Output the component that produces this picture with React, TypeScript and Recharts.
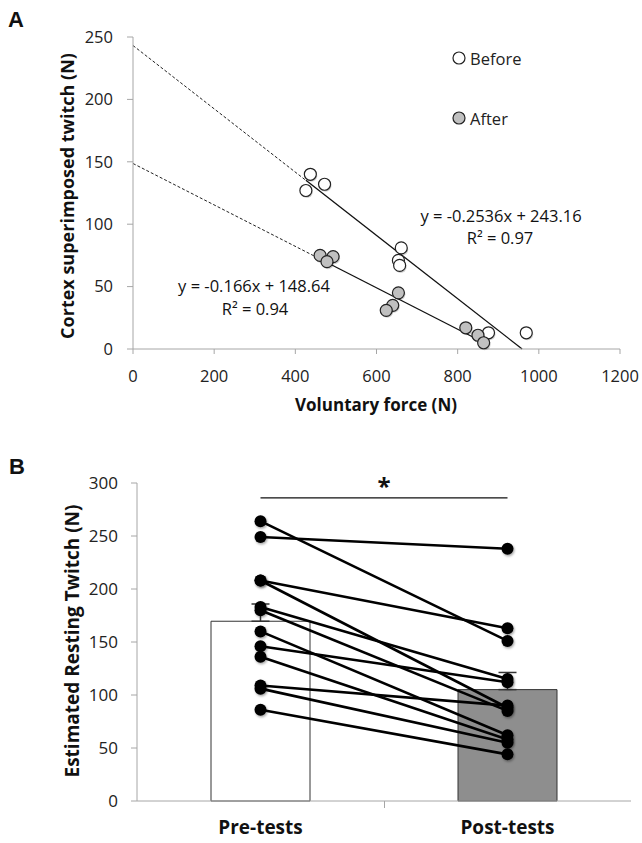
import React from "react";
import {
  Bar,
  Cell,
  ComposedChart,
  ErrorBar,
  Legend,
  Line,
  ReferenceLine,
  Scatter,
  XAxis,
  YAxis,
} from "recharts";

// Panel A: voluntary force vs cortex superimposed twitch
const beforeForce = [437, 472, 426, 661, 654, 657, 876, 969];
const beforeTwitch = [140, 132, 127, 81, 71, 67, 13, 13];
const afterForce = [461, 493, 478, 654, 640, 624, 820, 850, 864];
const afterTwitch = [75, 74, 70, 45, 35, 31, 17, 11, 5];
const forceTicks = [0, 200, 400, 600, 800, 1000, 1200];
const twitchTicks = [0, 50, 100, 150, 200, 250];
const seriesNames = ["Before", "After"];

// linear fits as printed on the figure
const beforeFit = { slope: -0.2536, intercept: 243.16, r2: "0.97", from: 426 };
const afterFit = { slope: -0.166, intercept: 148.64, r2: "0.94", from: 461, to: 870 };

// Panel B: estimated resting twitch, one value per subject
const groups = ["Pre-tests", "Post-tests"];
const preTest = [264, 249, 208, 208, 183, 180, 160, 146, 136, 109, 106, 86];
const postTest = [151, 238, 163, 88, 115, 85, 62, 112, 58, 90, 55, 44];
const restingTicks = [0, 50, 100, 150, 200, 250, 300];

const FONT = "'Open Sans', sans-serif";
const AXIS = "#a6a6a6";
const tickStyle = { fill: "#222", fontSize: 16.5, fontFamily: FONT };

const mean = (a: number[]) => a.reduce((s, v) => s + v, 0) / a.length;
const sem = (a: number[]) => {
  const m = mean(a);
  const sd = Math.sqrt(a.reduce((s, v) => s + (v - m) ** 2, 0) / (a.length - 1));
  return sd / Math.sqrt(a.length);
};

const beforePts = beforeForce.map((x, i) => ({ x, y: beforeTwitch[i] }));
const afterPts = afterForce.map((x, i) => ({ x, y: afterTwitch[i] }));
const fitAt = (f: { slope: number; intercept: number }, x: number) => f.slope * x + f.intercept;

const groupData = groups.map((name, g) => {
  const vals = g === 0 ? preTest : postTest;
  const row: Record<string, any> = { name, mean: mean(vals), err: [0, sem(vals)] };
  vals.forEach((v, i) => (row["s" + i] = v));
  return row;
});

const ring = (fill: string) => (p: any) => (
  <g>
    <circle cx={p.cx + 1} cy={p.cy + 1.5} r={6} fill="#000" opacity={0.18} />
    <circle cx={p.cx} cy={p.cy} r={6} fill={fill} stroke="#222" strokeWidth={1.2} />
  </g>
);

function LegendBox({ payload }: any) {
  const items = [...(payload ?? [])].sort(
    (a: any, b: any) => seriesNames.indexOf(a.value) - seriesNames.indexOf(b.value)
  );
  return (
    <div>
      {items.map((e: any) => (
        <div key={e.value} style={{ display: "flex", alignItems: "center", height: 20, marginBottom: 40 }}>
          <svg width={14} height={14} style={{ marginRight: 4 }}>
            <circle cx={7} cy={7} r={6} fill={e.color} stroke="#222" strokeWidth={1.2} />
          </svg>
          <span style={{ fontSize: 16.5, fontFamily: FONT, color: "#222" }}>{e.value}</span>
        </div>
      ))}
    </div>
  );
}

function GroupTick({ x, y, payload, index }: any) {
  return (
    <g>
      {index === 0 && <line x1={x + 124} x2={x + 124} y1={y - 20} y2={y - 13} stroke={AXIS} />}
      <text x={x} y={y} dy="0.71em" textAnchor="middle" fontSize={19} fontWeight={700} fontFamily={FONT} fill="#111">
        {payload.value}
      </text>
    </g>
  );
}

function Txt({ x, y, rotate, bold, size, children }: any) {
  return (
    <div
      style={{
        position: "absolute",
        left: x,
        top: y,
        transform: `translate(-50%, -50%)${rotate ? " rotate(-90deg)" : ""}`,
        whiteSpace: "nowrap",
        fontFamily: FONT,
        fontSize: size ?? 16.5,
        fontWeight: bold ? 700 : 400,
        lineHeight: 1,
        color: "#111",
      }}
    >
      {children}
    </div>
  );
}

export default function App() {
  return (
    <div style={{ position: "absolute", left: 0, top: 0, width: 642, height: 843, background: "#fff" }}>
      <div style={{ position: "absolute", left: 0, top: 0 }}>
        <ComposedChart width={642} height={400} margin={{ top: 37, right: 22, left: 0, bottom: 0 }}>
          <XAxis
            type="number"
            dataKey="x"
            domain={[0, 1200]}
            ticks={forceTicks}
            stroke={AXIS}
            tick={tickStyle}
            tickSize={5}
            tickMargin={16}
            height={51}
          />
          <YAxis
            type="number"
            dataKey="y"
            domain={[0, 250]}
            ticks={twitchTicks}
            stroke={AXIS}
            tick={tickStyle}
            tickSize={6}
            tickMargin={14}
            width={133}
          />
          <ReferenceLine
            segment={[{ x: 0, y: beforeFit.intercept }, { x: beforeFit.from, y: fitAt(beforeFit, beforeFit.from) }]}
            stroke="#222"
            strokeDasharray="3 2"
            ifOverflow="visible"
          />
          <ReferenceLine
            segment={[
              { x: beforeFit.from, y: fitAt(beforeFit, beforeFit.from) },
              { x: -beforeFit.intercept / beforeFit.slope, y: 0 },
            ]}
            stroke="#111"
            strokeWidth={1.3}
            ifOverflow="visible"
          />
          <ReferenceLine
            segment={[{ x: 0, y: afterFit.intercept }, { x: afterFit.from, y: fitAt(afterFit, afterFit.from) }]}
            stroke="#222"
            strokeDasharray="3 2"
            ifOverflow="visible"
          />
          <ReferenceLine
            segment={[
              { x: afterFit.from, y: fitAt(afterFit, afterFit.from) },
              { x: afterFit.to, y: fitAt(afterFit, afterFit.to) },
            ]}
            stroke="#111"
            strokeWidth={1.3}
            ifOverflow="visible"
          />
          <Scatter name={seriesNames[0]} data={beforePts} fill="#ffffff" shape={ring("#ffffff")} isAnimationActive={false} />
          <Scatter name={seriesNames[1]} data={afterPts} fill="#c0c0c0" shape={ring("#c0c0c0")} isAnimationActive={false} />
          <Legend
            layout="vertical"
            align="center"
            verticalAlign="middle"
            content={<LegendBox />}
            wrapperStyle={{ top: 48, left: 452, width: 120 }}
          />
        </ComposedChart>
      </div>

      <div style={{ position: "absolute", left: 0, top: 440 }}>
        <ComposedChart width={642} height={403} data={groupData} margin={{ top: 43, right: 11, left: 0, bottom: 0 }}>
          <defs>
            <filter id="dotShadow" x="-50%" y="-50%" width="200%" height="200%">
              <feDropShadow dx="1" dy="1.5" stdDeviation="1" floodColor="#000" floodOpacity="0.35" />
            </filter>
          </defs>
          <XAxis
            dataKey="name"
            stroke={AXIS}
            tickLine={false}
            tickSize={0}
            tickMargin={20}
            tick={<GroupTick />}
            height={42}
          />
          <YAxis
            domain={[0, 300]}
            ticks={restingTicks}
            stroke={AXIS}
            tick={{ ...tickStyle, fontSize: 17 }}
            tickSize={6}
            tickMargin={13}
            width={137}
          />
          <Bar dataKey="mean" barSize={99} stroke="#333" strokeWidth={1} isAnimationActive={false}>
            <Cell fill="#ffffff" />
            <Cell fill="#8e8e8e" />
            <ErrorBar dataKey="err" width={9} stroke="#333" strokeWidth={1.5} direction="y" />
          </Bar>
          {preTest.map((_, i) => (
            <Line
              key={i}
              dataKey={"s" + i}
              stroke="#000"
              strokeWidth={2.6}
              dot={{ r: 6, fill: "#000", stroke: "#000", strokeWidth: 0, filter: "url(#dotShadow)" }}
              activeDot={false}
              isAnimationActive={false}
            />
          ))}
          <ReferenceLine
            segment={[{ x: groups[0], y: 286 }, { x: groups[1], y: 286 }]}
            stroke="#111"
            strokeWidth={1.3}
            label={{ value: "*", position: "top", offset: 3, fontSize: 24, fontWeight: 700, fill: "#111", fontFamily: FONT }}
          />
        </ComposedChart>
      </div>

      <Txt x={16} y={19} bold size={22}>
        <span style={{ fontFamily: "'Liberation Sans', Arial, sans-serif" }}>A</span>
      </Txt>
      <Txt x={17} y={466} bold size={22}>
        <span style={{ fontFamily: "'Liberation Sans', Arial, sans-serif" }}>B</span>
      </Txt>

      <Txt x={67} y={196} rotate bold size={18}>Cortex superimposed twitch (N)</Txt>
      <Txt x={376} y={404} bold size={17}>Voluntary force (N)</Txt>
      <Txt x={72} y={641} rotate bold size={19}>Estimated Resting Twitch (N)</Txt>

      <Txt x={501} y={216}>y = -0.2536x + 243.16</Txt>
      <Txt x={500} y={238}>R² = {beforeFit.r2}</Txt>
      <Txt x={254} y={286}>y = -0.166x + 148.64</Txt>
      <Txt x={255} y={309}>R² = {afterFit.r2}</Txt>
    </div>
  );
}
